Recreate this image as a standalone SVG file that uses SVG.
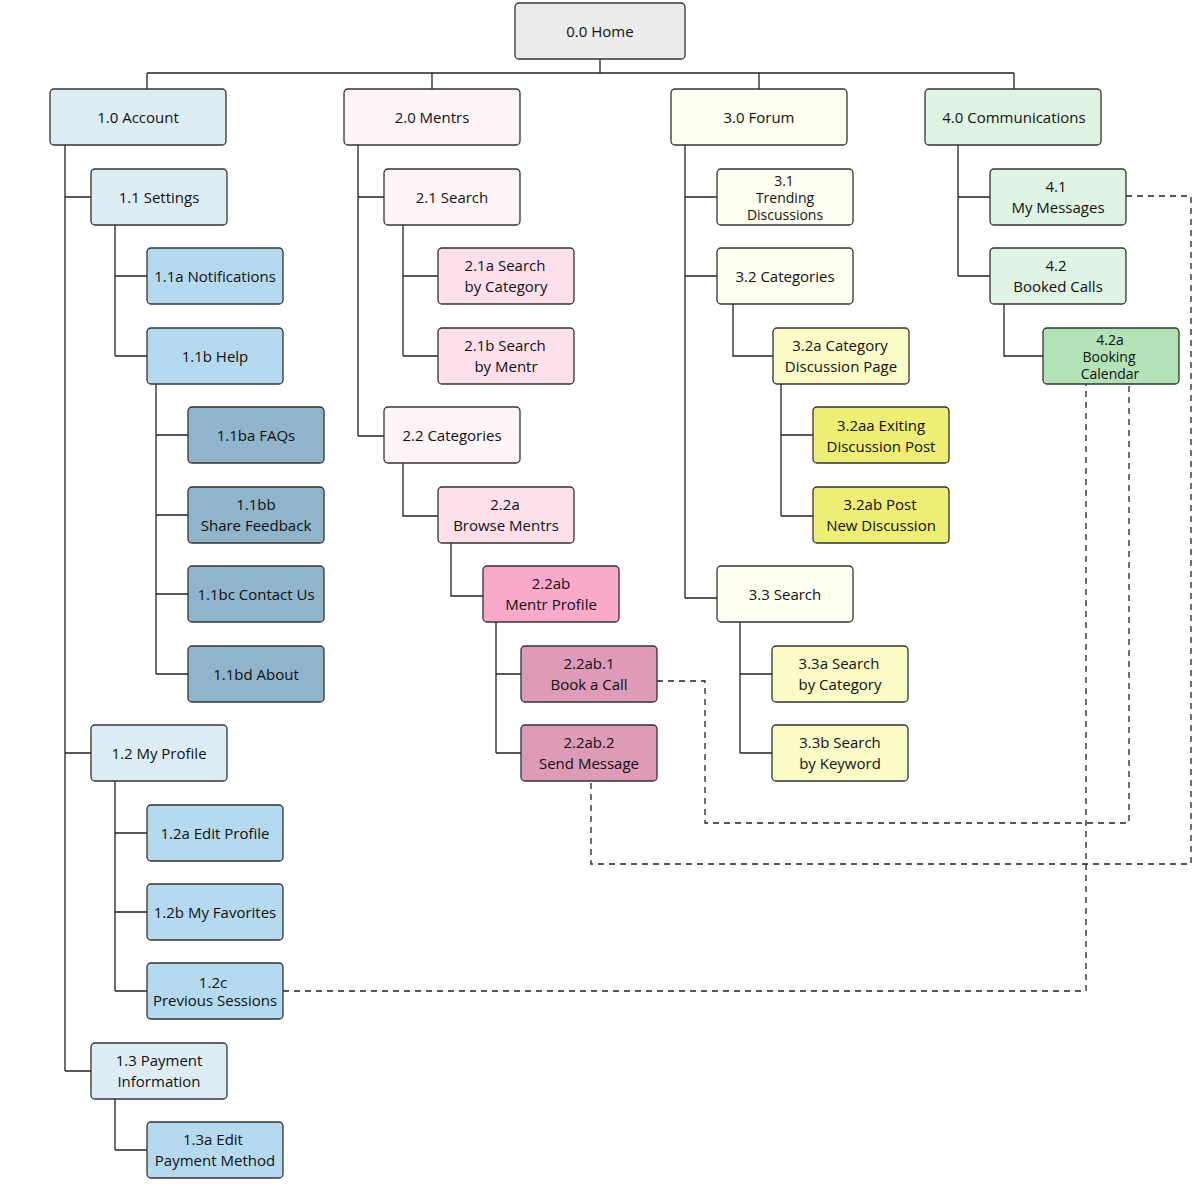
<svg xmlns="http://www.w3.org/2000/svg" width="1200" height="1200" viewBox="0 0 1200 1200">
<style>
rect{stroke:#333;stroke-width:1.3}
text{font-family:"Open Sans","Liberation Sans",sans-serif;font-size:15px;fill:#111;text-anchor:middle}
text.s{font-size:14px}
.c{fill:none;stroke:#222;stroke-width:1.3}
.d{fill:none;stroke:#222;stroke-width:1.3;stroke-dasharray:6 5}
.g{fill:#ececec}.b0{fill:#deedf5}.b1{fill:#b5daf0}.b2{fill:#8fb4cb}
.p0{fill:#fff4f8}.p1{fill:#fde0ec}.p2{fill:#f9a9c9}.p3{fill:#dd9bb7}
.y0{fill:#fefff0}.y1{fill:#fafbc6}.y2{fill:#eeee74}
.e0{fill:#e0f4e3}.e1{fill:#b1e3b7}
</style>
<rect width="1200" height="1200" style="fill:#fff;stroke:none"/>
<g id="connectors">
<path class="c" d="M600 59V73M147 73H1014M147 73V89M432 73V89M759 73V89M1014 73V89"/>
<path class="c" d="M65 145V1071M65 197H91M65 753H91M65 1071H91"/>
<path class="c" d="M115 225V356M115 276H147M115 356H147"/>
<path class="c" d="M156 384V674M156 435H188M156 515H188M156 594H188M156 674H188"/>
<path class="c" d="M115 781V991M115 833H147M115 912H147M115 991H147"/>
<path class="c" d="M115 1099V1150M115 1150H147"/>
<path class="c" d="M358 145V436M358 197H384M358 436H384"/>
<path class="c" d="M403 225V356M403 276H438M403 356H438"/>
<path class="c" d="M403 463V516H438M451 543V596H483"/>
<path class="c" d="M496 622V753M496 674H521M496 753H521"/>
<path class="c" d="M685 145V598M685 197H717M685 276H717M685 598H717"/>
<path class="c" d="M733 304V356H773M781 384V516M781 435H813M781 516H813"/>
<path class="c" d="M740 622V753M740 674H772M740 753H772"/>
<path class="c" d="M958 145V276M958 197H990M958 276H990M1004 304V356H1043"/>
<path class="d" d="M1126 196H1191V864H591V781"/>
<path class="d" d="M657 681H705V823H1129V384"/>
<path class="d" d="M283 991H1086V384"/>
</g>
<g id="n00"><rect class="g" x="515" y="3" width="170" height="56" rx="4"/><text x="600" y="37">0.0 Home</text></g>
<g id="n10"><rect class="b0" x="50" y="89" width="176" height="56" rx="4"/><text x="138" y="123">1.0 Account</text></g>
<g id="n20"><rect class="p0" x="344" y="89" width="176" height="56" rx="4"/><text x="432" y="123">2.0 Mentrs</text></g>
<g id="n30"><rect class="y0" x="671" y="89" width="176" height="56" rx="4"/><text x="759" y="123">3.0 Forum</text></g>
<g id="n40"><rect class="e0" x="925" y="89" width="176" height="56" rx="4"/><text x="1014" y="123">4.0 Communications</text></g>
<g id="n11"><rect class="b0" x="91" y="169" width="136" height="56" rx="4"/><text x="159" y="203">1.1 Settings</text></g>
<g id="n11a"><rect class="b1" x="147" y="248" width="136" height="56" rx="4"/><text x="215" y="282">1.1a Notifications</text></g>
<g id="n11b"><rect class="b1" x="147" y="328" width="136" height="56" rx="4"/><text x="215" y="362">1.1b Help</text></g>
<g id="n11ba"><rect class="b2" x="188" y="407" width="136" height="56" rx="4"/><text x="256" y="441">1.1ba FAQs</text></g>
<g id="n11bb"><rect class="b2" x="188" y="487" width="136" height="56" rx="4"/><text x="256" y="510">1.1bb</text><text x="256" y="531">Share Feedback</text></g>
<g id="n11bc"><rect class="b2" x="188" y="566" width="136" height="56" rx="4"/><text x="256" y="600">1.1bc Contact Us</text></g>
<g id="n11bd"><rect class="b2" x="188" y="646" width="136" height="56" rx="4"/><text x="256" y="680">1.1bd About</text></g>
<g id="n12"><rect class="b0" x="91" y="725" width="136" height="56" rx="4"/><text x="159" y="759">1.2 My Profile</text></g>
<g id="n12a"><rect class="b1" x="147" y="805" width="136" height="56" rx="4"/><text x="215" y="839">1.2a Edit Profile</text></g>
<g id="n12b"><rect class="b1" x="147" y="884" width="136" height="56" rx="4"/><text x="215" y="918">1.2b My Favorites</text></g>
<g id="n12c"><rect class="b1" x="147" y="963" width="136" height="56" rx="4"/><text x="213" y="988">1.2c</text><text x="215" y="1006">Previous Sessions</text></g>
<g id="n13"><rect class="b0" x="91" y="1043" width="136" height="56" rx="4"/><text x="159" y="1066">1.3 Payment</text><text x="159" y="1087">Information</text></g>
<g id="n13a"><rect class="b1" x="147" y="1122" width="136" height="56" rx="4"/><text x="213" y="1145">1.3a Edit</text><text x="215" y="1166">Payment Method</text></g>
<g id="n21"><rect class="p0" x="384" y="169" width="136" height="56" rx="4"/><text x="452" y="203">2.1 Search</text></g>
<g id="n21a"><rect class="p1" x="438" y="248" width="136" height="56" rx="4"/><text x="505" y="271">2.1a Search</text><text x="506" y="292">by Category</text></g>
<g id="n21b"><rect class="p1" x="438" y="328" width="136" height="56" rx="4"/><text x="505" y="351">2.1b Search</text><text x="506" y="372">by Mentr</text></g>
<g id="n22"><rect class="p0" x="384" y="407" width="136" height="56" rx="4"/><text x="452" y="441">2.2 Categories</text></g>
<g id="n22a"><rect class="p1" x="438" y="487" width="136" height="56" rx="4"/><text x="505" y="510">2.2a</text><text x="506" y="531">Browse Mentrs</text></g>
<g id="n22ab"><rect class="p2" x="483" y="566" width="136" height="56" rx="4"/><text x="551" y="589">2.2ab</text><text x="551" y="610">Mentr Profile</text></g>
<g id="n22ab1"><rect class="p3" x="521" y="646" width="136" height="56" rx="4"/><text x="589" y="669">2.2ab.1</text><text x="589" y="690">Book a Call</text></g>
<g id="n22ab2"><rect class="p3" x="521" y="725" width="136" height="56" rx="4"/><text x="589" y="748">2.2ab.2</text><text x="589" y="769">Send Message</text></g>
<g id="n31"><rect class="y0" x="717" y="169" width="136" height="56" rx="4"/><text class="s" x="784" y="186">3.1</text><text class="s" x="785" y="203">Trending</text><text class="s" x="785" y="220">Discussions</text></g>
<g id="n32"><rect class="y0" x="717" y="248" width="136" height="56" rx="4"/><text x="785" y="282">3.2 Categories</text></g>
<g id="n32a"><rect class="y1" x="773" y="328" width="136" height="56" rx="4"/><text x="840" y="351">3.2a Category</text><text x="841" y="372">Discussion Page</text></g>
<g id="n32aa"><rect class="y2" x="813" y="407" width="136" height="56" rx="4"/><text x="881" y="431">3.2aa Exiting</text><text x="881" y="452">Discussion Post</text></g>
<g id="n32ab"><rect class="y2" x="813" y="487" width="136" height="56" rx="4"/><text x="880" y="510">3.2ab Post</text><text x="881" y="531">New Discussion</text></g>
<g id="n33"><rect class="y0" x="717" y="566" width="136" height="56" rx="4"/><text x="785" y="600">3.3 Search</text></g>
<g id="n33a"><rect class="y1" x="772" y="646" width="136" height="56" rx="4"/><text x="839" y="669">3.3a Search</text><text x="840" y="690">by Category</text></g>
<g id="n33b"><rect class="y1" x="772" y="725" width="136" height="56" rx="4"/><text x="840" y="748">3.3b Search</text><text x="840" y="769">by Keyword</text></g>
<g id="n41"><rect class="e0" x="990" y="169" width="136" height="56" rx="4"/><text x="1056" y="192">4.1</text><text x="1058" y="213">My Messages</text></g>
<g id="n42"><rect class="e0" x="990" y="248" width="136" height="56" rx="4"/><text x="1056" y="271">4.2</text><text x="1058" y="292">Booked Calls</text></g>
<g id="n42a"><rect class="e1" x="1043" y="328" width="136" height="56" rx="4"/><text class="s" x="1110" y="345">4.2a</text><text class="s" x="1109" y="362">Booking</text><text class="s" x="1110" y="379">Calendar</text></g>
</svg>
